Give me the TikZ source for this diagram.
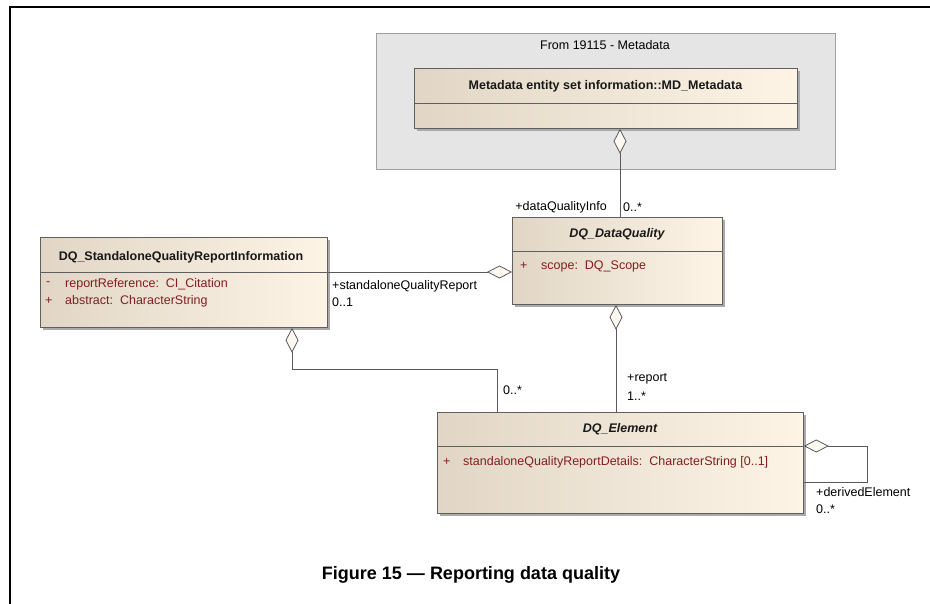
\documentclass[tikz,border=0pt]{standalone}
\usepackage{fontspec}
\setmainfont{Liberation Sans}
\usetikzlibrary{arrows.meta,shadows,calc}
\definecolor{clsL}{RGB}{225,214,198}
\definecolor{clsR}{RGB}{253,244,230}
\definecolor{clsB}{RGB}{95,95,95}
\definecolor{shd}{RGB}{170,170,170}
\definecolor{pkgF}{RGB}{229,229,229}
\definecolor{pkgB}{RGB}{160,160,160}
\definecolor{attrC}{RGB}{130,30,30}
\definecolor{lnC}{RGB}{90,90,90}
\definecolor{diaF}{RGB}{252,248,240}
\begin{document}
\begin{tikzpicture}[x=1pt,y=-1pt,
  cls/.style={rectangle, draw=clsB, line width=0.8pt, left color=clsL, right color=clsR,
    drop shadow={shadow xshift=3pt, shadow yshift=-3pt, fill=shd, opacity=1},
    inner sep=0pt, anchor=north west},
  pkg/.style={rectangle, draw=pkgB, line width=0.8pt, fill=pkgF, inner sep=0pt, anchor=north west},
  sep/.style={draw=clsB, line width=0.8pt},
  ttl/.style={inner sep=0pt, font=\fontsize{12.5}{15}\selectfont\bfseries, text=black!90},
  ittl/.style={ttl, font=\fontsize{12.5}{15}\selectfont\bfseries\itshape},
  attr/.style={inner sep=0pt, anchor=west, font=\fontsize{12.5}{15}\selectfont, text=attrC},
  lbl/.style={inner sep=0pt, anchor=west, font=\fontsize{12.5}{15}\selectfont, text=black},
  conn/.style={draw=lnC, line width=0.8pt},
  aggS/.style={conn, {Diamond[length=25pt,width=13pt,fill=diaF,line width=0.8pt]}-},
  aggE/.style={conn, -{Diamond[length=25pt,width=13pt,fill=diaF,line width=0.8pt]}}
]
\useasboundingbox (0,0) rectangle (930,604);
% page frame
\coordinate (fb) at (10,606);
\coordinate (fc) at (10,7);
\coordinate (fr) at (932,7);
\draw[line width=2.4pt] (fb) -- (fc) -- (fr);

% package
\node[pkg, minimum width=459pt, minimum height=136pt] (pkg) at (376,33) {};
\node[inner sep=0pt, font=\fontsize{12.5}{15}\selectfont] (pkgT) at (605,45) {From 19115 - Metadata};

% MD_Metadata
\node[cls, minimum width=383pt, minimum height=60pt] (md) at (414,68) {};
\coordinate (mdS) at (0,103);
\draw[sep] (md.west |- mdS) -- (md.east |- mdS);
\node[ttl] (mdT) at (605.5,86) {Metadata entity set information::MD\_Metadata};

% DQ_DataQuality
\node[cls, minimum width=210pt, minimum height=87pt] (dq) at (512,217) {};
\coordinate (dqS) at (0,251);
\draw[sep] (dq.west |- dqS) -- (dq.east |- dqS);
\node[ittl] (dqT) at (617,234) {DQ\_DataQuality};
\node[attr] (dqA1) at (520,266) {+};
\node[attr] (dqA2) at (541,266) {scope:\ \ DQ\_Scope};

% DQ_StandaloneQualityReportInformation
\node[cls, minimum width=287pt, minimum height=90pt] (std) at (40,237) {};
\coordinate (stdS) at (0,272);
\draw[sep] (std.west |- stdS) -- (std.east |- stdS);
\node[ttl] (stdT) at (181,257) {DQ\_StandaloneQualityReportInformation};
\node[attr] (stdM1) at (46,284) {-};
\node[attr] (stdA1) at (65,284) {reportReference:\ \ CI\_Citation};
\node[attr] (stdM2) at (45,301) {+};
\node[attr] (stdA2) at (65,301) {abstract:\ \ CharacterString};

% DQ_Element
\node[cls, minimum width=366pt, minimum height=101pt] (el) at (437,412) {};
\coordinate (elS) at (0,446);
\draw[sep] (el.west |- elS) -- (el.east |- elS);
\node[ittl] (elT) at (620,429) {DQ\_Element};
\node[attr] (elM1) at (443,462) {+};
\node[attr] (elA1) at (463,462) {standaloneQualityReportDetails:\ \ CharacterString [0..1]};

% connectors
\coordinate (x1) at (620,0);
\draw[aggS] (md.south -| x1) -- (dq.north -| x1);
\node[lbl, anchor=east] (l1) at (607,207) {+dataQualityInfo};
\node[lbl] (l2) at (623,207) {0..*};

\draw[aggE] (std.east |- stdS) -- (dq.west |- stdS);
\node[lbl] (l3) at (332,286) {+standaloneQualityReport};
\node[lbl] (l4) at (332,302) {0..1};

\coordinate (x2) at (616,0);
\draw[aggS] (dq.south -| x2) -- (el.north -| x2);
\node[lbl] (l5) at (627,379) {+report};
\node[lbl] (l6) at (627,396) {1..*};

\coordinate (bend) at (292,369);
\coordinate (x3) at (497,0);
\draw[aggS] (std.south -| bend) -- (bend) -| (el.north -| x3);
\node[lbl] (l7) at (503,390) {0..*};

\coordinate (y4) at (0,482);
\draw[aggS] (el.east |- elS) -- ++(64,0) |- (el.east |- y4);
\node[lbl] (l8) at (816,492) {+derivedElement};
\node[lbl] (l9) at (816,509) {0..*};

% caption
\node[inner sep=0pt, font=\fontsize{18}{21}\selectfont\bfseries] (cap) at (471,575) {Figure 15 — Reporting data quality};
\end{tikzpicture}
\end{document}
